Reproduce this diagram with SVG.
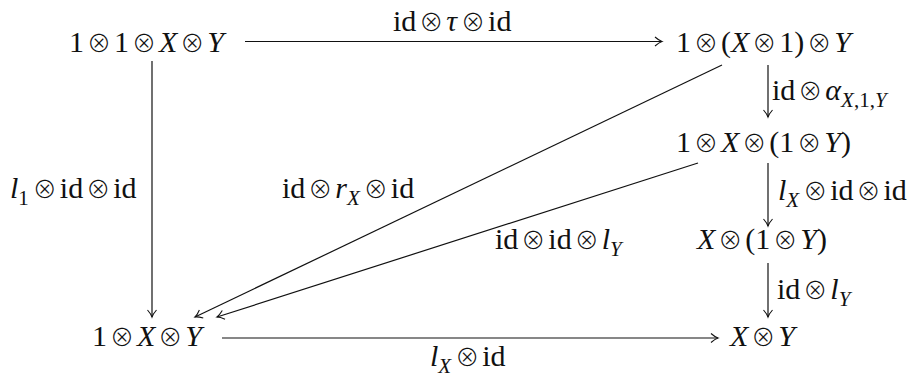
<svg xmlns="http://www.w3.org/2000/svg" width="920" height="378" viewBox="0 0 920 378">
<defs>
<style>
text{font-family:"Liberation Serif","DejaVu Serif",serif;font-size:30px;fill:#111}
.lab{font-size:30px}
.i{font-style:italic}
.s{font-size:21px}
.o{font-family:"Noto Sans CJK SC","DejaVu Sans",sans-serif;font-size:24px;font-weight:300;letter-spacing:3px}
.e{stroke:#111;stroke-width:1.2;fill:none;marker-end:url(#ah)}
</style>
<marker id="ah" markerUnits="userSpaceOnUse" viewBox="-9 -6 11 12" markerWidth="11" markerHeight="12" refX="0" refY="0" orient="auto">
<path d="M-7,-4.5 Q-3,-1 0,0 Q-3,1 -7,4.5" fill="none" stroke="#111" stroke-width="1.1"/>
</marker>
</defs>
<rect width="920" height="378" fill="#fff"/>
<g id="edges">
<line class="e" x1="245" y1="41.5" x2="662" y2="41.5"/>
<line class="e" x1="152" y1="61" x2="152" y2="317"/>
<line class="e" x1="768" y1="65" x2="768" y2="117"/>
<line class="e" x1="768" y1="163" x2="768" y2="226"/>
<line class="e" x1="768" y1="263" x2="768" y2="317"/>
<line class="e" x1="222" y1="338" x2="718" y2="338"/>
<line class="e" x1="722" y1="65" x2="195" y2="317"/>
<line class="e" x1="698" y1="163" x2="217" y2="317"/>
<text class="lab" x="393" y="31">id<tspan class="o" dx="3">⊗</tspan><tspan class="i">τ</tspan><tspan class="o" dx="4">⊗</tspan>id</text>
<text class="lab" x="10" y="198"><tspan class="i">l</tspan><tspan class="s" dy="7">1</tspan><tspan dy="-7" dx="4" class="o">⊗</tspan>id<tspan class="o" dx="3">⊗</tspan>id</text>
<text class="lab" x="282" y="198">id<tspan class="o" dx="3">⊗</tspan><tspan class="i">r</tspan><tspan class="s i" dy="7">X</tspan><tspan dy="-7" dx="4" class="o">⊗</tspan>id</text>
<text class="lab" x="495" y="249">id<tspan class="o" dx="3">⊗</tspan>id<tspan class="o" dx="3">⊗</tspan><tspan class="i">l</tspan><tspan class="s i" dy="7">Y</tspan></text>
<text class="lab" x="772" y="100">id<tspan class="o" dx="3">⊗</tspan><tspan class="i">α</tspan><tspan class="s" dy="7"><tspan class="i">X</tspan>,1,<tspan class="i">Y</tspan></tspan></text>
<text class="lab" x="778" y="200"><tspan class="i">l</tspan><tspan class="s i" dy="7">X</tspan><tspan dy="-7" dx="4" class="o">⊗</tspan>id<tspan class="o" dx="3">⊗</tspan>id</text>
<text class="lab" x="777" y="299">id<tspan class="o" dx="3">⊗</tspan><tspan class="i">l</tspan><tspan class="s i" dy="7">Y</tspan></text>
<text class="lab" x="430" y="366"><tspan class="i">l</tspan><tspan class="s i" dy="7">X</tspan><tspan dy="-7" dx="4" class="o">⊗</tspan>id</text>
</g>
<g id="n1"><text x="69" y="52">1<tspan class="o" dx="3">⊗</tspan>1<tspan class="o" dx="3">⊗</tspan><tspan class="i">X</tspan><tspan class="o" dx="3">⊗</tspan><tspan class="i">Y</tspan></text></g>
<g id="n2"><text x="676" y="52">1<tspan class="o" dx="3">⊗</tspan>(<tspan class="i">X</tspan><tspan class="o" dx="3">⊗</tspan>1)<tspan class="o" dx="3">⊗</tspan><tspan class="i">Y</tspan></text></g>
<g id="n3"><text x="676" y="152">1<tspan class="o" dx="3">⊗</tspan><tspan class="i">X</tspan><tspan class="o" dx="3">⊗</tspan>(1<tspan class="o" dx="3">⊗</tspan><tspan class="i">Y</tspan>)</text></g>
<g id="n4"><text x="697" y="249"><tspan class="i">X</tspan><tspan class="o" dx="3">⊗</tspan>(1<tspan class="o" dx="3">⊗</tspan><tspan class="i">Y</tspan>)</text></g>
<g id="n5"><text x="92" y="346">1<tspan class="o" dx="3">⊗</tspan><tspan class="i">X</tspan><tspan class="o" dx="3">⊗</tspan><tspan class="i">Y</tspan></text></g>
<g id="n6"><text x="730" y="346"><tspan class="i">X</tspan><tspan class="o" dx="3">⊗</tspan><tspan class="i">Y</tspan></text></g>
</svg>
